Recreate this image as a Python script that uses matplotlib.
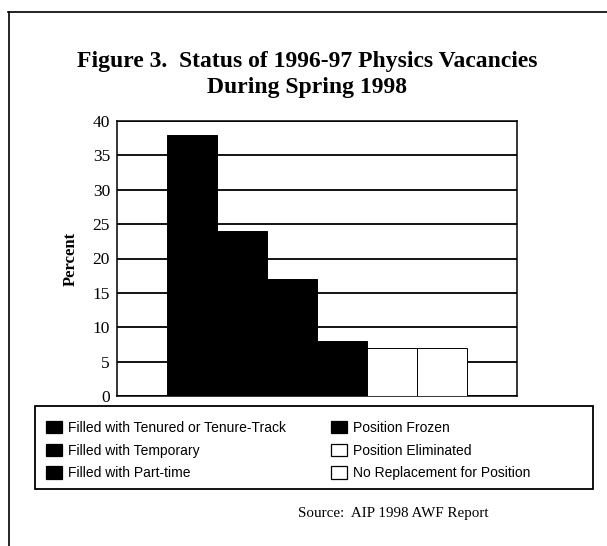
import matplotlib.pyplot as plt
from matplotlib.patches import Patch, Rectangle
from matplotlib.lines import Line2D

categories = ["Filled with Tenured or Tenure-Track", "Filled with Temporary",
              "Filled with Part-time", "Position Frozen",
              "Position Eliminated", "No Replacement for Position"]
values = [38, 24, 17, 8, 7, 7]
fills = ["black", "black", "black", "black", "white", "white"]
yticks = [0, 5, 10, 15, 20, 25, 30, 35, 40]

W, H = 607, 546
fig = plt.figure(figsize=(W / 100, H / 100), dpi=100)

# outer frame (top and left edges only visible in the scan)
fig.add_artist(Line2D([8 / W, 1], [1 - 12 / H, 1 - 12 / H], color="black", lw=1.2))
fig.add_artist(Line2D([9 / W, 9 / W], [0, 1 - 12 / H], color="black", lw=1.2))

title_font = dict(family="Liberation Serif", weight="bold", fontsize=17)
fig.text(307 / W, 1 - 62 / H, "Figure 3.  Status of 1996-97 Physics Vacancies",
         ha="center", va="center", **title_font)
fig.text(307 / W, 1 - 88 / H, "During Spring 1998",
         ha="center", va="center", **title_font)

ax = fig.add_axes([117 / W, 1 - 396 / H, 400 / W, 275 / H])
x = [i + 1 for i in range(len(values))]
ax.bar(x, values, width=1.0, color=fills, edgecolor="black", linewidth=0.7, zorder=3)
ax.set_xlim(-0.5, 7.5)
ax.set_ylim(0, 40)
ax.set_yticks(yticks)
ax.set_yticklabels([str(t) for t in yticks], family="Liberation Serif", fontsize=12.5)
ax.set_xticks([])
ax.tick_params(axis="y", length=0, pad=5)
ax.yaxis.grid(True, color="black", lw=1.3)
ax.set_axisbelow(True)
for s in ax.spines.values():
    s.set_linewidth(1.1)
ax.set_ylabel("Percent", family="Liberation Serif", weight="bold", fontsize=12, labelpad=10)

# legend box
fig.add_artist(Rectangle((35 / W, 1 - 489 / H), 558 / W, 83 / H, transform=fig.transFigure,
                         fill=False, edgecolor="black", lw=1.3))
handles = [Patch(facecolor=f, edgecolor="black", linewidth=0.9) for f in fills]
fig.legend(handles, categories, ncol=2, loc="upper left",
           bbox_to_anchor=(46 / W, 1 - 421 / H),
           prop={"family": "Liberation Sans", "size": 10},
           frameon=False, handlelength=1.15, handleheight=1.0, handletextpad=0.45,
           labelspacing=0.62, columnspacing=3.2, borderaxespad=0, borderpad=0)

fig.text(298 / W, 1 - 513 / H, "Source:  AIP 1998 AWF Report",
         ha="left", va="center", family="Liberation Serif", fontsize=10.8)

fig.savefig("out.png", dpi=100)
